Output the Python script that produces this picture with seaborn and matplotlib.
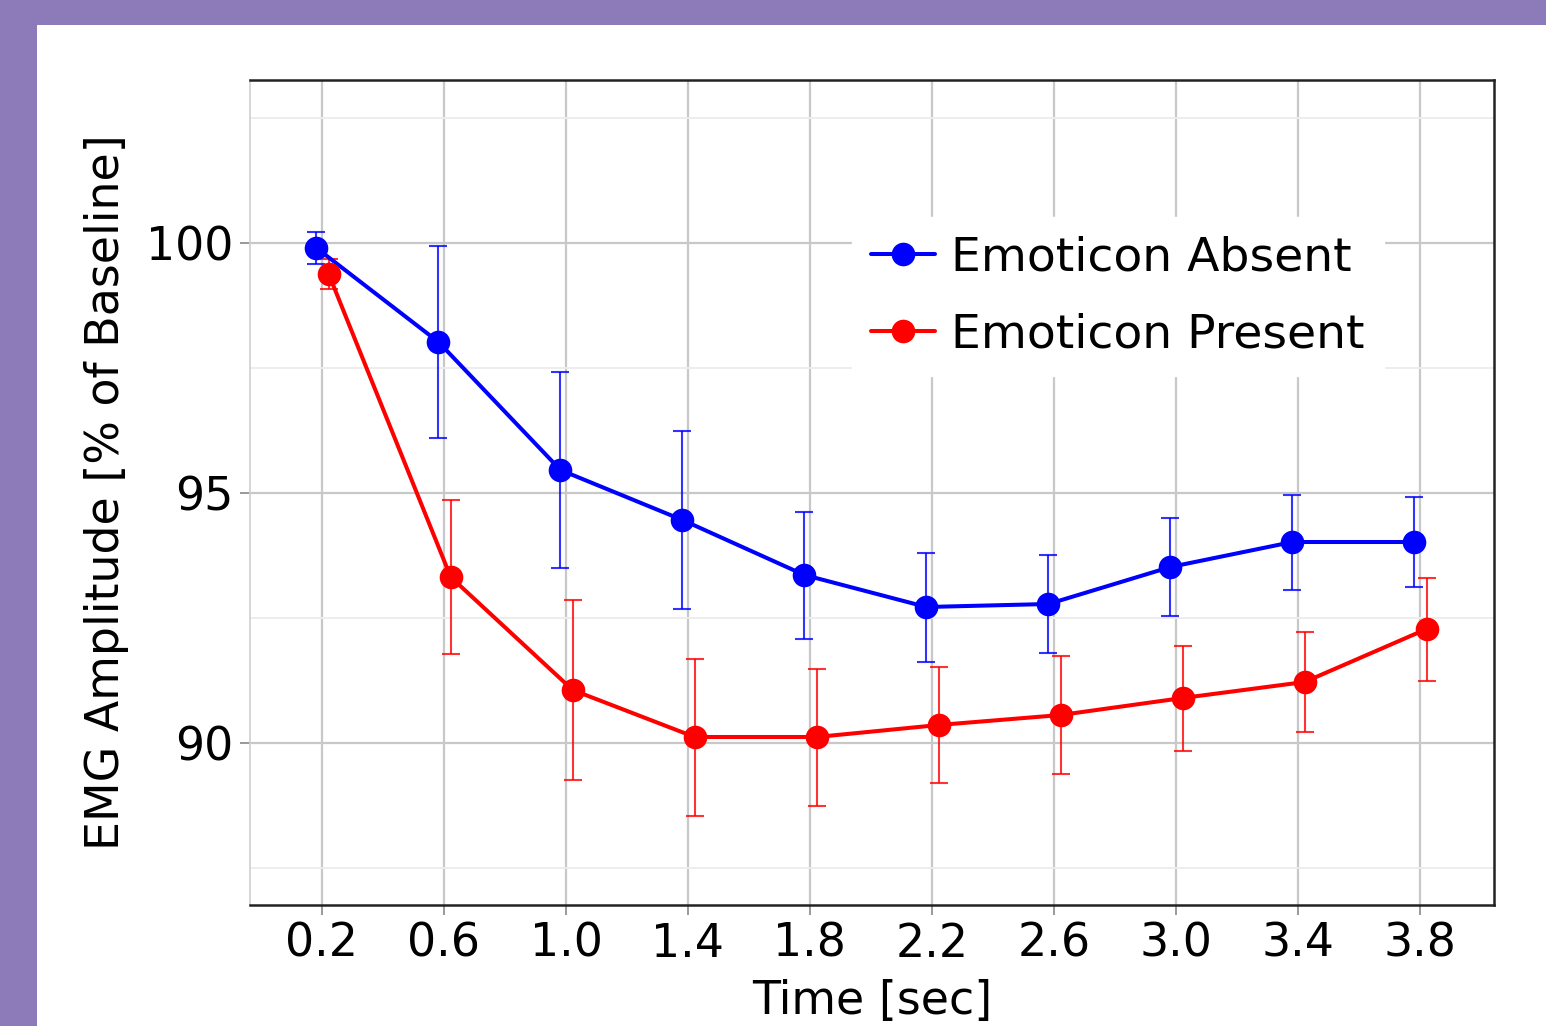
import numpy as np
import pandas as pd
import matplotlib
matplotlib.use("Agg")
import matplotlib.pyplot as plt
import seaborn as sns
from matplotlib.patches import Rectangle

time = [0.2, 0.6, 1.0, 1.4, 1.8, 2.2, 2.6, 3.0, 3.4, 3.8]
absent_mean = [99.90, 98.02, 95.46, 94.46, 93.36, 92.72, 92.78, 93.52, 94.02, 94.02]
absent_err = [0.32, 1.92, 1.96, 1.78, 1.27, 1.09, 0.98, 0.98, 0.95, 0.90]
present_mean = [99.38, 93.32, 91.06, 90.12, 90.12, 90.36, 90.56, 90.90, 91.22, 92.28]
present_err = [0.30, 1.54, 1.80, 1.57, 1.37, 1.16, 1.18, 1.05, 1.00, 1.03]
series_names = ["Emoticon Absent", "Emoticon Present"]
colors = {"Emoticon Absent": "#0000FF", "Emoticon Present": "#FF0000"}
dodge = {"Emoticon Absent": -0.018, "Emoticon Present": 0.022}

rows = []
for name, m, e in [(series_names[0], absent_mean, absent_err),
                   (series_names[1], present_mean, present_err)]:
    for t, mv, ev in zip(time, m, e):
        rows.append({"time": t + dodge[name], "value": mv, "err": ev, "group": name})
df = pd.DataFrame(rows)

sns.set_theme(style="white")
plt.rcParams['font.family'] = ['DejaVu Sans']

fig = plt.figure(figsize=(15.46, 10.26), dpi=100)
fig.patch.set_facecolor("#8C7BB8")
fig.patches.append(Rectangle((37 / 1546, 0), 1 - 37 / 1546, 1 - 25 / 1026,
                             transform=fig.transFigure, facecolor="white",
                             edgecolor="none", zorder=-10))

ax = fig.add_axes([250 / 1546, 1 - 905 / 1026, (1494 - 250) / 1546, (905 - 80) / 1026])
ax.set_facecolor("white")

for name in series_names:
    sub = df[df["group"] == name]
    ax.errorbar(sub["time"], sub["value"], yerr=sub["err"], fmt="none",
                ecolor=colors[name], elinewidth=1.5, capsize=6.5, capthick=1.5,
                alpha=0.8, zorder=3)

sns.lineplot(data=df, x="time", y="value", hue="group", palette=colors,
             marker="o", markersize=17, markeredgewidth=0, linewidth=2.9,
             ax=ax, zorder=4, legend=True)

ax.set_xlim(-0.036, 4.043)
ax.set_ylim(86.76, 103.26)
ax.set_xticks(time)
ax.set_xticklabels([f"{t:.1f}" for t in time])
ax.set_yticks([90, 95, 100])
ax.set_yticks([87.5, 92.5, 97.5, 102.5], minor=True)

ax.grid(True, which="major", color="#C8C8C8", linewidth=1.6)
ax.grid(True, which="minor", axis="y", color="#EDEDED", linewidth=1.4)
ax.set_axisbelow(True)

ax.tick_params(axis="both", which="major", labelsize=33, colors="#000000",
               length=7, width=1.2, color="#888888", direction="out", pad=5,
               bottom=True, left=True)
ax.tick_params(axis="both", which="minor", length=0)
for lab in ax.get_xticklabels() + ax.get_yticklabels():
    lab.set_color("#000000")

for s in ["top", "bottom", "right"]:
    ax.spines[s].set_visible(True)
    ax.spines[s].set_color("#222222")
    ax.spines[s].set_linewidth(1.8)
ax.spines["left"].set_color("#D0D0D0")
ax.spines["left"].set_linewidth(1.2)

ax.set_xlabel("Time [sec]", fontsize=33, color="#000000", labelpad=9)
ax.set_ylabel("EMG Amplitude [% of Baseline]", fontsize=33, color="#000000", labelpad=12)

handles, labels = ax.get_legend_handles_labels()
leg = ax.legend(handles, labels, loc="upper left",
                bbox_to_anchor=((852 - 250) / 1244, (905 - 217) / 825),
                fontsize=34, frameon=True, framealpha=1.0, edgecolor="white",
                facecolor="white", handlelength=1.35, handletextpad=0.35,
                labelspacing=0.66, borderpad=0.4, borderaxespad=0, fancybox=False)
for line in leg.get_lines():
    line.set_linewidth(2.9)
    line.set_markersize(17)
for t in leg.get_texts():
    t.set_color("#000000")

fig.savefig("out.png", dpi=100, facecolor=fig.get_facecolor())
